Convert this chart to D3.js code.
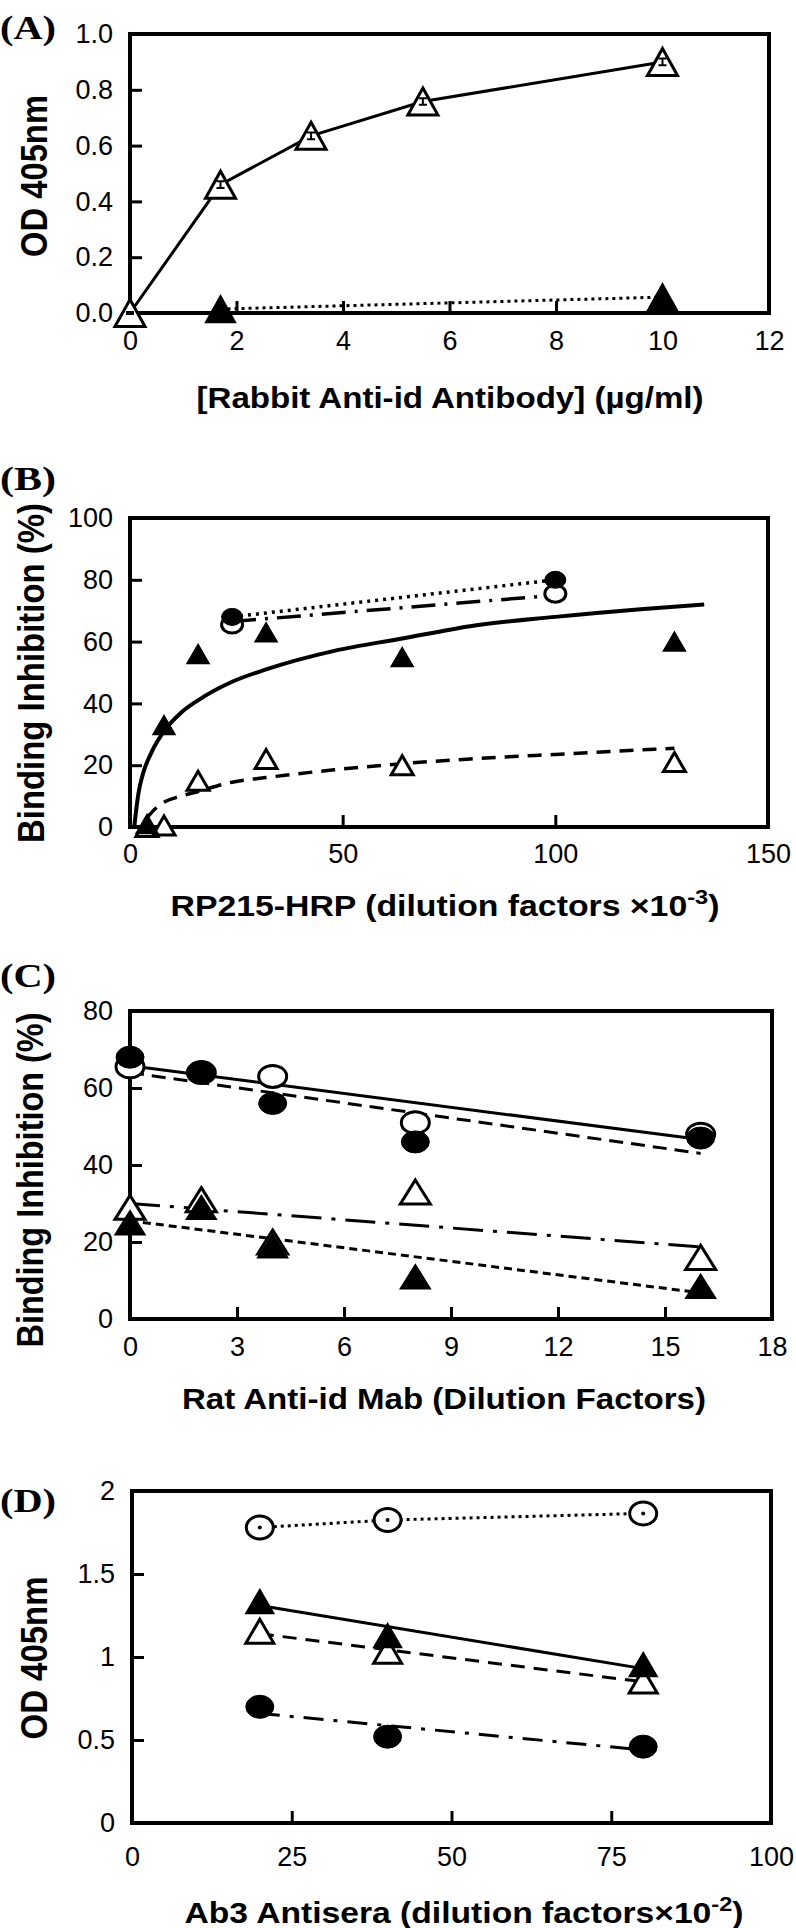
<!DOCTYPE html>
<html><head><meta charset="utf-8">
<script src="https://cdn.jsdelivr.net/npm/d3@7"></script>
<style>body{margin:0;background:#fff} svg{display:block}</style>
</head><body>
<svg id="c" width="796" height="1928"></svg>
<script>
// ================= DATA =================
// Panel A
const aXTicks = [0, 2, 4, 6, 8, 10, 12];
const aYTicks = [0, 0.2, 0.4, 0.6, 0.8, 1.0];
const aOpenTri = [[0, 0.0], [1.7, 0.46], [3.4, 0.635], [5.5, 0.758], [10, 0.90]];
const aOpenTriErr = [0.004, 0.012, 0.012, 0.012, 0.012];
const aFilledTri = [[1.7, 0.014], [10, 0.057]];

// Panel B
const bXTicks = [0, 50, 100, 150];
const bYTicks = [0, 20, 40, 60, 80, 100];
const bFilledTri = [[4, 1], [8, 33], [16, 56], [32, 63], [64, 55], [128, 60]];
const bOpenTri = [[4, 0], [8, 0.5], [16, 15], [32, 22], [64, 20], [128, 21]];
const bFilledCirc = [[24, 68], [100, 80]];
const bOpenCirc = [[24, 65.5], [100, 75.5]];
const bFitFilledTri = [[1, 0], [1.5, 6], [2, 11], [3, 17], [5, 24], [8, 31], [12, 37], [16, 41], [24, 47], [32, 51], [48, 57], [64, 61], [80, 65], [100, 68], [120, 70.5], [135, 72]];
const bFitOpenTri = [[4, 3], [6, 6], [8, 8], [12, 10], [16, 11.5], [24, 14.5], [32, 16], [48, 18.5], [64, 20.5], [80, 22], [100, 23.5], [128, 25.5]];
const bFitOpenCirc = [[24, 66.5], [100, 75]];

// Panel C
const cXTicks = [0, 3, 6, 9, 12, 15, 18];
const cYTicks = [0, 20, 40, 60, 80];
const cFilledCirc = [[0, 68], [2, 64], [4, 56], [8, 46], [16, 47]];
const cOpenCirc = [[0, 65.5], [2, 64], [4, 63], [8, 51], [16, 48]];
const cOpenTri = [[0, 29], [2, 31], [4, 20], [8, 33], [16, 16]];
const cFilledTri = [[0, 25], [2, 29], [4, 19], [8, 11], [16, 8.5]];
const cFitOpenCirc = [[0, 65.8], [16, 46.6]];
const cFitFilledCirc = [[0, 64], [16, 43]];
const cFitOpenTri = [[0, 30], [16, 18.7]];
const cFitFilledTri = [[0, 25.5], [16, 6.8]];

// Panel D
const dXTicks = [0, 25, 50, 75, 100];
const dYTicks = [0, 0.5, 1, 1.5, 2];
const dOpenCirc = [[20, 1.78], [40, 1.825], [80, 1.865]];
const dFilledTri = [[20, 1.335], [40, 1.13], [80, 0.955]];
const dOpenTri = [[20, 1.155], [40, 1.035], [80, 0.855]];
const dFilledCirc = [[20, 0.70], [40, 0.52], [80, 0.46]];
const dFitFilledTri = [[20, 1.31], [80, 0.93]];
const dFitOpenTri = [[20, 1.14], [80, 0.85]];
const dFitFilledCirc = [[20, 0.66], [80, 0.44]];

// ================= DRAWING =================
const svg = d3.select('#c');
const TICKFONT = '"Liberation Sans", Arial, sans-serif';

function makePanel(o) {
  const x = d3.scaleLinear().domain(o.xDomain).range([o.l, o.r]);
  const y = d3.scaleLinear().domain(o.yDomain).range([o.b, o.t]);
  const g = svg.append('g');
  g.append('rect').attr('x', o.l).attr('y', o.t).attr('width', o.r - o.l).attr('height', o.b - o.t)
    .attr('fill', 'none').attr('stroke', '#000').attr('stroke-width', 4);
  const ya = d3.axisLeft(y).tickValues(o.yTicks).tickFormat(o.yFmt).tickSizeInner(-12).tickSizeOuter(0).tickPadding(17);
  const xa = d3.axisBottom(x).tickValues(o.xTicks).tickFormat(o.xFmt).tickSizeInner(-12).tickSizeOuter(0).tickPadding(o.xPad);
  const gy = g.append('g').attr('transform', `translate(${o.l},0)`).call(ya);
  const gx = g.append('g').attr('transform', `translate(0,${o.b})`).call(xa);
  [gy, gx].forEach(a => {
    a.select('.domain').remove();
    a.selectAll('line').attr('stroke', '#000').attr('stroke-width', 3);
    a.selectAll('text').attr('font-family', TICKFONT).attr('font-size', 27).attr('fill', '#000');
  });
  svg.append('text').attr('x', 0).attr('y', o.labelY).attr('dy', '0.35em')
    .attr('font-family', '"Liberation Serif", "Times New Roman", serif').attr('font-weight', 'bold')
    .attr('font-size', 34).attr('textLength', 56).attr('lengthAdjust', 'spacingAndGlyphs').text(o.label);
  svg.append('text').attr('transform', `translate(${o.ytx},${o.yty}) rotate(-90)`)
    .attr('text-anchor', 'middle').attr('dy', '0.36em')
    .attr('font-family', TICKFONT).attr('font-weight', 'bold').attr('font-size', 37)
    .attr('textLength', o.ytLen).attr('lengthAdjust', 'spacingAndGlyphs').text(o.yTitle);
  const xt = svg.append('text').attr('x', o.xtx).attr('y', o.xty).attr('dy', '0.36em')
    .attr('text-anchor', 'middle').attr('font-family', TICKFONT).attr('font-weight', 'bold')
    .attr('font-size', 30).attr('textLength', o.xtLen).attr('lengthAdjust', 'spacingAndGlyphs');
  xt.append('tspan').text(o.xTitle[0]);
  if (o.xTitle.length > 1) {
    xt.append('tspan').attr('font-size', 21).attr('dy', -12).text(o.xTitle[1]);
    xt.append('tspan').attr('font-size', 30).attr('dy', 12).text(o.xTitle[2]);
  }
  return {g, x, y};
}

function line(p, pts, dash, w, curve) {
  const gen = d3.line().x(d => p.x(d[0])).y(d => p.y(d[1]));
  if (curve) gen.curve(curve);
  p.g.append('path').datum(pts).attr('d', gen).attr('fill', 'none').attr('stroke', '#000')
    .attr('stroke-width', w || 3).attr('stroke-dasharray', dash || null);
}
function tris(p, pts, w, h, filled) {
  p.g.selectAll(null).data(pts).enter().append('path')
    .attr('d', d => {
      const cx = p.x(d[0]), cy = p.y(d[1]);
      return `M${cx},${cy - h / 2}L${cx + w / 2},${cy + h / 2}L${cx - w / 2},${cy + h / 2}Z`;
    })
    .attr('fill', filled ? '#000' : '#fff').attr('stroke', '#000').attr('stroke-width', filled ? 1.5 : 3)
    .attr('stroke-linejoin', 'miter');
}
function circs(p, pts, rx, ry, filled, dot) {
  p.g.selectAll(null).data(pts).enter().append('ellipse')
    .attr('cx', d => p.x(d[0])).attr('cy', d => p.y(d[1])).attr('rx', rx).attr('ry', ry)
    .attr('fill', filled ? '#000' : '#fff').attr('stroke', '#000').attr('stroke-width', filled ? 1 : 3);
  if (dot) p.g.selectAll(null).data(pts).enter().append('circle')
    .attr('cx', d => p.x(d[0])).attr('cy', d => p.y(d[1])).attr('r', 2).attr('fill', '#000');
}

// ---- Panel A ----
const A = makePanel({l: 130, r: 769, t: 34, b: 313, xDomain: [0, 12], yDomain: [0, 1],
  xTicks: aXTicks, yTicks: aYTicks, xFmt: d3.format('d'), yFmt: d3.format('.1f'), xPad: 18,
  label: '(A)', labelY: 27, yTitle: 'OD 405nm', ytx: 34, yty: 176, ytLen: 162,
  xTitle: ['[Rabbit Anti-id Antibody] (\u00b5g/ml)'], xtx: 450, xty: 397, xtLen: 507});
line(A, aOpenTri, null, 3);
line(A, aFilledTri, '3,4', 3);
tris(A, aOpenTri, 30, 27, false);
A.g.selectAll(null).data(aOpenTri).enter().append('path')
  .attr('d', (d, i) => {
    const cx = A.x(d[0]), y0 = A.y(d[1] - aOpenTriErr[i]), y1 = A.y(d[1] + aOpenTriErr[i]);
    return `M${cx},${y0}V${y1}M${cx - 4},${y0}H${cx + 4}M${cx - 4},${y1}H${cx + 4}`;
  }).attr('stroke', '#000').attr('stroke-width', 2).attr('fill', 'none');
tris(A, aFilledTri, 30, 27, true);

// ---- Panel B ----
const B = makePanel({l: 130, r: 768, t: 518, b: 827, xDomain: [0, 150], yDomain: [0, 100],
  xTicks: bXTicks, yTicks: bYTicks, xFmt: d3.format('d'), yFmt: d3.format('d'), xPad: 17,
  label: '(B)', labelY: 478, yTitle: 'Binding Inhibition (%)', ytx: 31, yty: 673, ytLen: 340,
  xTitle: ['RP215-HRP (dilution factors \u00d710', '-3', ')'], xtx: 445, xty: 905, xtLen: 549});
line(B, bFitFilledTri, null, 4, d3.curveMonotoneX);
line(B, bFitOpenTri, '14,9', 3.5, d3.curveMonotoneX);
line(B, bFilledCirc, '3,5', 3.5);
line(B, bFitOpenCirc, '24,9,3,9', 3.5);
tris(B, bOpenTri, 22, 19, false);
tris(B, bFilledTri, 22, 19, true);
circs(B, bOpenCirc, 10.5, 8.5, false);
circs(B, bFilledCirc, 10.5, 8.5, true);

// ---- Panel C ----
const C = makePanel({l: 130, r: 772, t: 1011, b: 1319, xDomain: [0, 18], yDomain: [0, 80],
  xTicks: cXTicks, yTicks: cYTicks, xFmt: d3.format('d'), yFmt: d3.format('d'), xPad: 18,
  label: '(C)', labelY: 975, yTitle: 'Binding Inhibition (%)', ytx: 30, yty: 1180, ytLen: 335,
  xTitle: ['Rat Anti-id Mab (Dilution Factors)'], xtx: 444, xty: 1398, xtLen: 524});
line(C, cFitOpenCirc, null, 3);
line(C, cFitFilledCirc, '14,8', 3);
line(C, cFitOpenTri, '30,10,4,10', 3);
line(C, cFitFilledTri, '8,5', 3);
circs(C, cOpenCirc, 14, 11, false);
circs(C, cFilledCirc, 14, 11, true);
tris(C, cOpenTri, 30, 24, false);
tris(C, cFilledTri, 30, 24, true);

// ---- Panel D ----
const D = makePanel({l: 132, r: 771, t: 1491, b: 1823, xDomain: [0, 100], yDomain: [0, 2],
  xTicks: dXTicks, yTicks: dYTicks, xFmt: d3.format('d'), yFmt: d => String(d), xPad: 24,
  label: '(D)', labelY: 1500, yTitle: 'OD 405nm', ytx: 34, yty: 1658, ytLen: 163,
  xTitle: ['Ab3 Antisera (dilution factors\u00d710', '-2', ')'], xtx: 464, xty: 1912, xtLen: 559});
line(D, dOpenCirc, '3,4', 3);
line(D, dFitFilledTri, null, 3);
line(D, dFitOpenTri, '14,9', 3);
line(D, dFitFilledCirc, '20,10,4,10', 3);
circs(D, dOpenCirc, 13.5, 11.5, false, true);
tris(D, dOpenTri, 28, 24, false);
tris(D, dFilledTri, 28, 24, true);
circs(D, dFilledCirc, 14, 11.5, true);
</script>
</body></html>
